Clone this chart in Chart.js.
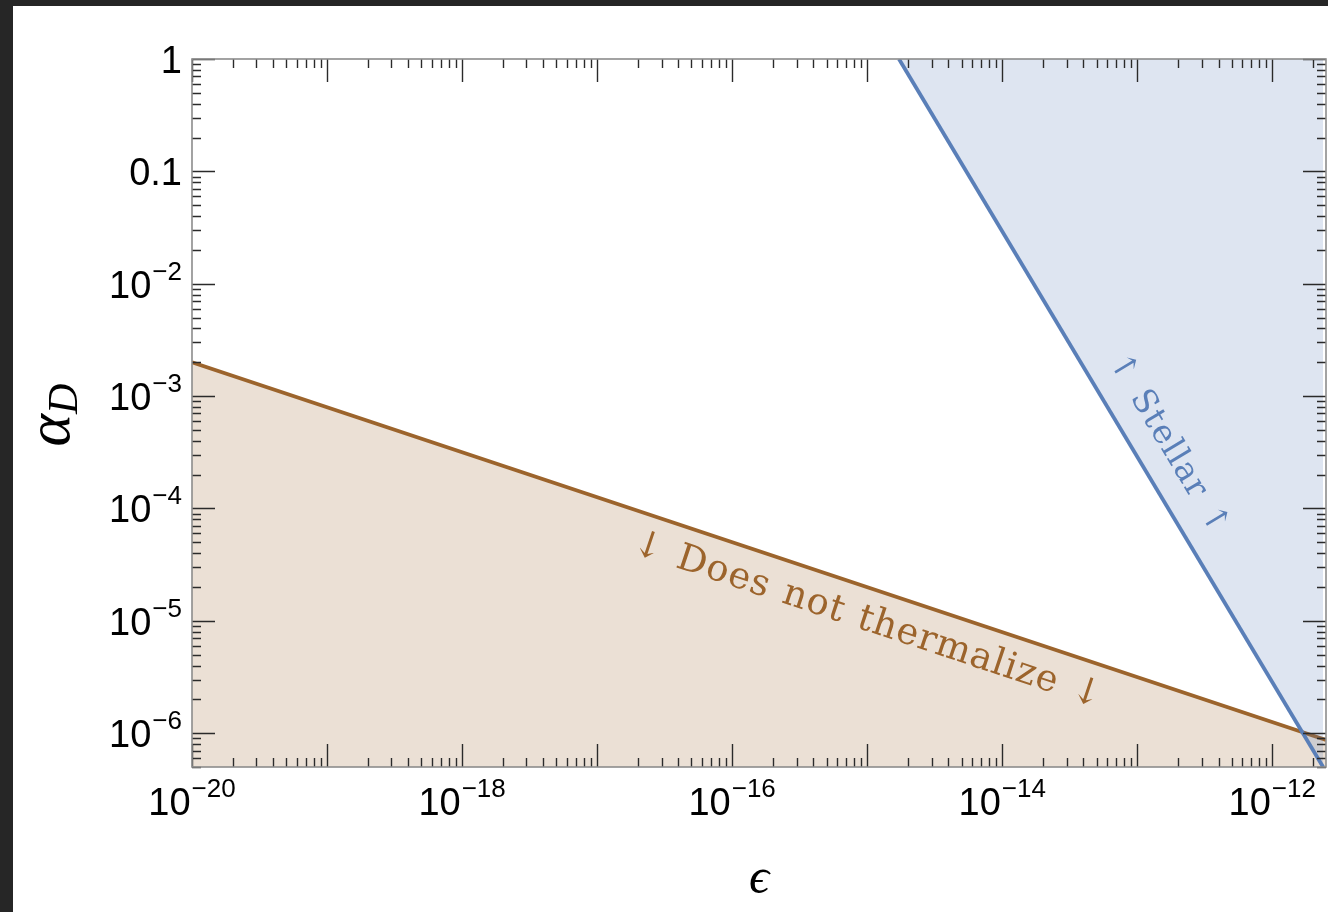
<!DOCTYPE html>
<html>
<head>
<meta charset="utf-8">
<script src="https://cdn.jsdelivr.net/npm/chart.js@4.4.1/dist/chart.umd.min.js"></script>
<style>
  html, body { margin: 0; padding: 0; background: #262626; overflow: hidden; }
  #panel { position: absolute; left: 13px; top: 6px; width: 1315px; height: 906px; background: #fff; }
  canvas { display: block; }
</style>
</head>
<body>
<div id="panel"><canvas id="c"></canvas></div>
<script>
'use strict';

// Axis ranges (log-log)
const X_MIN = 1e-20, X_MAX = 2.5e-12;
const Y_MIN = 5e-7,  Y_MAX = 1;

// "Does not thermalize" boundary, read where it meets the frame
const thermEps   = [1e-20, 2.5e-12];
const thermAlpha = [2.0e-3, 8.7e-7];

// Stellar bound, read where it meets the top and bottom of the frame
const stellarEps   = [1.72e-15, 2.38e-12];
const stellarAlpha = [1, 5e-7];

// Tick labels
const xLabelVals = [1e-20, 1e-18, 1e-16, 1e-14, 1e-12];
const xLabelBase = ['10', '10', '10', '10', '10'];
const xLabelSup  = ['\u221220', '\u221218', '\u221216', '\u221214', '\u221212'];
const yLabelVals = [1, 0.1, 1e-2, 1e-3, 1e-4, 1e-5, 1e-6];
const yLabelBase = ['1', '0.1', '10', '10', '10', '10', '10'];
const yLabelSup  = ['', '', '\u22122', '\u22123', '\u22124', '\u22125', '\u22126'];

const BROWN = '#9c642c';
const BLUE  = '#5a7fb8';

const TICK_FONT = '38px "Liberation Sans", Arial, sans-serif';
const SUP_FONT  = '26px "Liberation Sans", Arial, sans-serif';
const LABEL_FONT = '"DejaVu Serif", "Liberation Serif", serif';
const MATH_FONT  = '"Liberation Serif", "DejaVu Serif", serif';

// major tick at each decade, minor at 2..9
function decadeTicks(min, max) {
  const out = [];
  const lo = Math.floor(Math.log10(min)), hi = Math.ceil(Math.log10(max));
  for (let e = lo; e <= hi; e++) {
    for (let m = 1; m <= 9; m++) {
      const v = m * Math.pow(10, e);
      if (v >= min * 0.999 && v <= max * 1.001) out.push({value: v, major: m === 1});
    }
  }
  return out;
}

function drawPow(ctx, base, sup, x, y, align) {
  ctx.font = TICK_FONT;
  const wb = ctx.measureText(base).width;
  ctx.font = SUP_FONT;
  const ws = sup ? ctx.measureText(sup).width + 1 : 0;
  const total = wb + ws;
  const x0 = align === 'right' ? x - total : align === 'center' ? x - total / 2 : x;
  ctx.textAlign = 'left';
  ctx.textBaseline = 'alphabetic';
  ctx.font = TICK_FONT;
  ctx.fillText(base, x0, y);
  if (sup) {
    ctx.font = SUP_FONT;
    ctx.fillText(sup, x0 + wb + 1, y - 18);
  }
}

// text laid along a dataset's line, offset perpendicular to it
function drawAlong(chart, eps, alpha, atEps, text, font, spacing, color, offset) {
  const {ctx, scales: {x, y}} = chart;
  const x1 = x.getPixelForValue(eps[0]), y1 = y.getPixelForValue(alpha[0]);
  const x2 = x.getPixelForValue(eps[1]), y2 = y.getPixelForValue(alpha[1]);
  const ang = Math.atan2(y2 - y1, x2 - x1);
  const px = x.getPixelForValue(atEps);
  const py = y1 + (px - x1) * (y2 - y1) / (x2 - x1);
  ctx.save();
  ctx.translate(px, py);
  ctx.rotate(ang);
  ctx.font = font;
  ctx.letterSpacing = spacing + 'px';
  ctx.wordSpacing = (spacing * 2) + 'px';
  ctx.fillStyle = color;
  ctx.textAlign = 'center';
  ctx.textBaseline = 'middle';
  ctx.fillText(text, 0, offset);
  ctx.restore();
}

const framePlugin = {
  id: 'frame',
  afterDatasetsDraw(chart) {
    const {ctx, chartArea: a, scales: {x, y}} = chart;
    ctx.save();
    ctx.lineCap = 'butt';

    // ticks, pointing inward on all four sides
    ctx.strokeStyle = '#2a2a2a';
    ctx.lineWidth = 1.4;
    ctx.beginPath();
    for (const t of x.ticks) {
      const px = Math.round(x.getPixelForValue(t.value)) + 0.5;
      const len = t.major ? 23 : 9;
      ctx.moveTo(px, a.bottom); ctx.lineTo(px, a.bottom - len);
      ctx.moveTo(px, a.top);    ctx.lineTo(px, a.top + len);
    }
    for (const t of y.ticks) {
      const py = Math.round(y.getPixelForValue(t.value)) + 0.5;
      const len = t.major ? 23 : 9;
      ctx.moveTo(a.left, py);  ctx.lineTo(a.left + len, py);
      ctx.moveTo(a.right, py); ctx.lineTo(a.right - len, py);
    }
    ctx.stroke();

    // frame
    ctx.strokeStyle = '#8c8c8c';
    ctx.lineWidth = 1.6;
    ctx.strokeRect(a.left, a.top, a.right - a.left, a.bottom - a.top);

    // tick labels
    ctx.fillStyle = '#000';
    xLabelVals.forEach((v, i) => {
      drawPow(ctx, xLabelBase[i], xLabelSup[i], x.getPixelForValue(v), a.bottom + 48, 'center');
    });
    yLabelVals.forEach((v, i) => {
      drawPow(ctx, yLabelBase[i], yLabelSup[i], a.left - 10, y.getPixelForValue(v) + 14, 'right');
    });

    // axis titles
    ctx.font = 'italic 50px ' + MATH_FONT;
    ctx.textAlign = 'center';
    ctx.textBaseline = 'alphabetic';
    ctx.fillText('\u03F5', (a.left + a.right) / 2, a.bottom + 126);

    ctx.save();
    ctx.translate(a.left - 123, (a.top + a.bottom) / 2 + 2);
    ctx.rotate(-Math.PI / 2);
    ctx.textAlign = 'left';
    ctx.font = 'italic 62px ' + MATH_FONT;
    const wa = ctx.measureText('\u03B1').width;
    ctx.font = 'italic 42px ' + MATH_FONT;
    const wd = ctx.measureText('D').width;
    const x0 = -(wa + wd) / 2;
    ctx.font = 'italic 62px ' + MATH_FONT;
    ctx.fillText('\u03B1', x0, 0);
    ctx.font = 'italic 42px ' + MATH_FONT;
    ctx.fillText('D', x0 + wa, 8);
    ctx.restore();

    // curve labels
    drawAlong(chart, thermEps, thermAlpha, 1.2e-15, '\u2193 Does not thermalize \u2193',
              '37px ' + LABEL_FONT, 1, BROWN, 32);
    drawAlong(chart, stellarEps, stellarAlpha, 1.05e-13, '\u2191 Stellar \u2191',
              '33px ' + LABEL_FONT, 1.2, BLUE, -33);
    ctx.restore();
  },
};

const hiddenAxis = (min, max) => ({
  type: 'logarithmic',
  min, max,
  grid: {display: false, drawTicks: false},
  border: {display: false},
  ticks: {display: false},
  afterBuildTicks: axis => { axis.ticks = decadeTicks(min, max); },
});

new Chart(document.getElementById('c').getContext('2d'), {
  type: 'scatter',
  data: {
    datasets: [
      {
        label: 'Stellar',
        data: stellarEps.map((e, i) => ({x: e, y: stellarAlpha[i]})),
        showLine: true,
        borderColor: BLUE,
        borderWidth: 3.8,
        backgroundColor: 'rgba(90,127,184,0.2)',
        fill: 'end',
        pointRadius: 0,
      },
      {
        label: 'Does not thermalize',
        data: thermEps.map((e, i) => ({x: e, y: thermAlpha[i]})),
        showLine: true,
        borderColor: BROWN,
        borderWidth: 3.8,
        backgroundColor: 'rgba(156,100,44,0.2)',
        fill: 'start',
        pointRadius: 0,
      },
    ],
  },
  options: {
    responsive: true,
    maintainAspectRatio: false,
    animation: false,
    devicePixelRatio: 1,
    layout: {padding: {left: 179, top: 53, right: 2, bottom: 145}},
    plugins: {legend: {display: false}, tooltip: {enabled: false}},
    scales: {
      x: hiddenAxis(X_MIN, X_MAX),
      y: hiddenAxis(Y_MIN, Y_MAX),
    },
  },
  plugins: [framePlugin],
});
</script>
</body>
</html>
